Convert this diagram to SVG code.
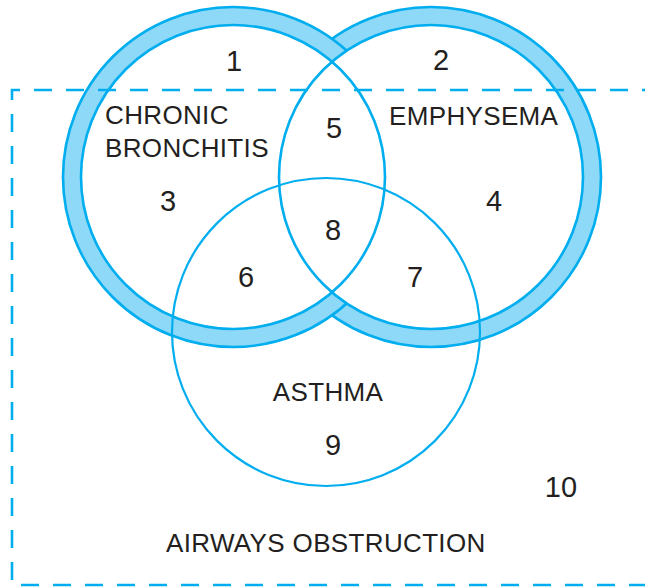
<svg xmlns="http://www.w3.org/2000/svg" width="645" height="588" viewBox="0 0 645 588">
  <style>
    .band { fill: none; stroke: #8ED8F8; stroke-width: 18; }
    .line { fill: none; stroke: #00AEEF; stroke-width: 2.6; }
    .hole { fill: #FFFFFF; stroke: none; }
    .thin { fill: none; stroke: #00AEEF; stroke-width: 2.2; }
    .dash { fill: none; stroke: #00AEEF; stroke-width: 2.6; }
    .lbl { font-family: "Liberation Sans", Arial, sans-serif; font-size: 26px; letter-spacing: 0.35px; fill: #231F20; }
    .num { font-family: "Liberation Sans", Arial, sans-serif; font-size: 29px; fill: #231F20; text-anchor: middle; }
  </style>
  <rect width="645" height="588" fill="#FFFFFF"/>
  <g id="emphysema">
    <circle class="band" cx="431" cy="177" r="161"/>
    <circle class="line" cx="431" cy="177" r="170"/>
  </g>
  <g id="chronic-bronchitis">
    <circle class="band" cx="233" cy="177" r="161"/>
    <circle class="line" cx="233" cy="177" r="170"/>
  </g>
  <g id="interiors">
    <circle class="hole" cx="431" cy="177" r="151"/>
    <circle class="hole" cx="233" cy="177" r="151"/>
    <circle class="line" cx="431" cy="177" r="152"/>
    <circle class="line" cx="233" cy="177" r="152"/>
  </g>
  <g id="airways-obstruction">
    <path class="dash" d="M660 90 H12 V585 H660" stroke-dasharray="18 14"/>
    <text class="lbl" x="166" y="552">AIRWAYS OBSTRUCTION</text>
  </g>
  <g id="asthma">
    <circle class="thin" cx="326" cy="332" r="154"/>
    <text class="lbl" x="328" y="401" text-anchor="middle">ASTHMA</text>
  </g>
  <g id="labels">
    <text class="lbl" x="105" y="124">CHRONIC</text>
    <text class="lbl" x="105" y="157">BRONCHITIS</text>
    <text class="lbl" x="389" y="125">EMPHYSEMA</text>
  </g>
  <g id="regions">
    <text class="num" x="234" y="71">1</text>
    <text class="num" x="441" y="70">2</text>
    <text class="num" x="168" y="211">3</text>
    <text class="num" x="494" y="211">4</text>
    <text class="num" x="334" y="138">5</text>
    <text class="num" x="246" y="287">6</text>
    <text class="num" x="415" y="287">7</text>
    <text class="num" x="333" y="240">8</text>
    <text class="num" x="333" y="455">9</text>
    <text class="num" x="561" y="497">10</text>
  </g>
</svg>
